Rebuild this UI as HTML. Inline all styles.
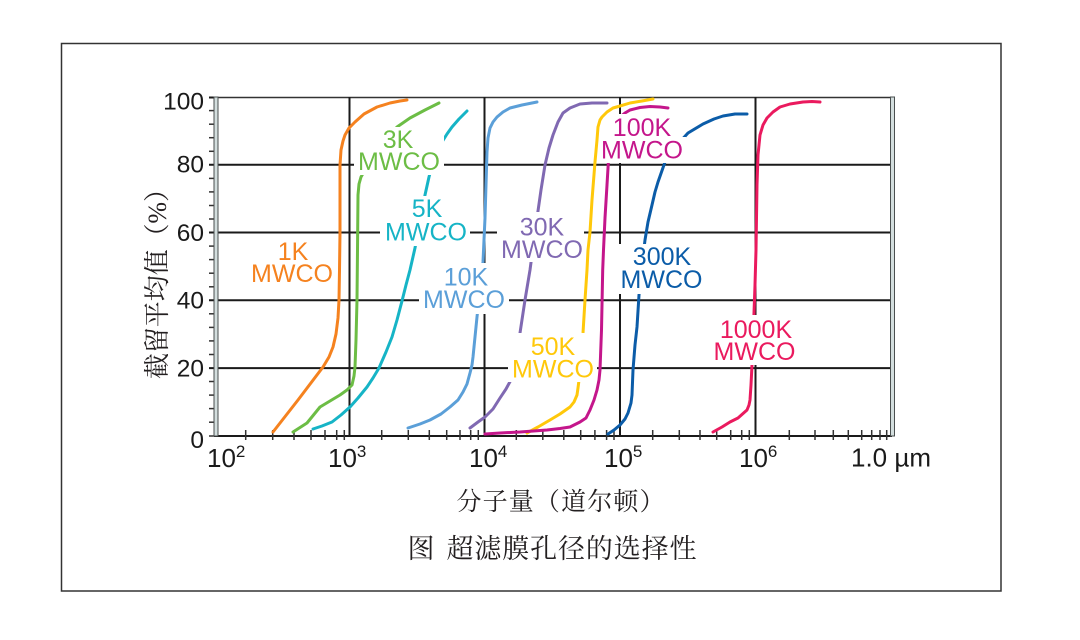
<!DOCTYPE html>
<html>
<head>
<meta charset="utf-8">
<style>
  html, body { margin:0; padding:0; background:#ffffff; }
  body { width:1080px; height:640px; overflow:hidden; }
  svg { display:block; }
  .lbl { font-family:"Liberation Sans", sans-serif; font-size:25px; text-anchor:middle; }
  .tick { font-family:"Liberation Sans", sans-serif; fill:#1a1a1a; }
  .cjk { font-family:"Liberation Serif", "Noto Serif CJK SC", "Noto Sans CJK SC", serif; fill:#231f20; }
  .crv { fill:none; stroke-width:3; stroke-linejoin:round; stroke-linecap:round; }
</style>
</head>
<body>
<svg width="1080" height="640" viewBox="0 0 1080 640" xmlns="http://www.w3.org/2000/svg">
  <rect x="0" y="0" width="1080" height="640" fill="#ffffff"/>
  <!-- outer frame -->
  <rect x="61.5" y="43.5" width="939.5" height="547.5" fill="none" stroke="#333" stroke-width="1.5"/>

  <!-- top line -->
  <line x1="214" y1="97.5" x2="892" y2="97.5" stroke="#333" stroke-width="1.5"/>

  <!-- horizontal gridlines (with major ticks) -->
  <g stroke="#1a1a1a" stroke-width="2">
    <line x1="209" y1="97.5" x2="216" y2="97.5"/>
    <line x1="209" y1="164.7" x2="891" y2="164.7"/>
    <line x1="209" y1="232.5" x2="891" y2="232.5"/>
    <line x1="209" y1="300.3" x2="891" y2="300.3"/>
    <line x1="209" y1="368.1" x2="891" y2="368.1"/>
  </g>
  <!-- vertical gridlines -->
  <g stroke="#1a1a1a" stroke-width="2">
    <line x1="349.5" y1="97" x2="349.5" y2="436"/>
    <line x1="484.5" y1="97" x2="484.5" y2="436"/>
    <line x1="620" y1="97" x2="620" y2="436"/>
    <line x1="755.5" y1="97" x2="755.5" y2="436"/>
  </g>

  <!-- y minor ticks every 4 units -->
  <g stroke="#333" stroke-width="1.5">
    <line x1="209" y1="422.2" x2="218" y2="422.2"/>
    <line x1="209" y1="408.6" x2="218" y2="408.6"/>
    <line x1="209" y1="395.1" x2="218" y2="395.1"/>
    <line x1="209" y1="381.5" x2="218" y2="381.5"/>
    <line x1="209" y1="354.5" x2="218" y2="354.5"/>
    <line x1="209" y1="340.9" x2="218" y2="340.9"/>
    <line x1="209" y1="327.4" x2="218" y2="327.4"/>
    <line x1="209" y1="313.8" x2="218" y2="313.8"/>
    <line x1="209" y1="286.8" x2="218" y2="286.8"/>
    <line x1="209" y1="273.2" x2="218" y2="273.2"/>
    <line x1="209" y1="259.6" x2="218" y2="259.6"/>
    <line x1="209" y1="246.1" x2="218" y2="246.1"/>
    <line x1="209" y1="219.0" x2="218" y2="219.0"/>
    <line x1="209" y1="205.5" x2="218" y2="205.5"/>
    <line x1="209" y1="191.9" x2="218" y2="191.9"/>
    <line x1="209" y1="178.4" x2="218" y2="178.4"/>
    <line x1="209" y1="151.3" x2="218" y2="151.3"/>
    <line x1="209" y1="137.7" x2="218" y2="137.7"/>
    <line x1="209" y1="124.2" x2="218" y2="124.2"/>
    <line x1="209" y1="110.6" x2="218" y2="110.6"/>
    <line x1="209" y1="436" x2="218" y2="436"/>
  </g>

  <!-- x axis -->
  <line x1="214" y1="436" x2="892" y2="436" stroke="#1a1a1a" stroke-width="2"/>
  <!-- x minor ticks -->
  <g stroke="#333" stroke-width="1.5">
    <line x1="245.7" y1="430" x2="245.7" y2="440"/>
    <line x1="272.7" y1="430" x2="272.7" y2="440"/>
    <line x1="294" y1="430" x2="294" y2="440"/>
    <line x1="311" y1="430" x2="311" y2="440"/>
    <line x1="325" y1="430" x2="325" y2="440"/>
    <line x1="336.7" y1="430" x2="336.7" y2="440"/>
    <line x1="344.3" y1="430" x2="344.3" y2="440"/>
    <line x1="381.7" y1="430" x2="381.7" y2="440"/>
    <line x1="408.3" y1="430" x2="408.3" y2="440"/>
    <line x1="429.3" y1="430" x2="429.3" y2="440"/>
    <line x1="446.7" y1="430" x2="446.7" y2="440"/>
    <line x1="460" y1="430" x2="460" y2="440"/>
    <line x1="470.7" y1="430" x2="470.7" y2="440"/>
    <line x1="478.3" y1="430" x2="478.3" y2="440"/>
    <line x1="516.3" y1="430" x2="516.3" y2="440"/>
    <line x1="542.8" y1="430" x2="542.8" y2="440"/>
    <line x1="563.8" y1="430" x2="563.8" y2="440"/>
    <line x1="580.7" y1="430" x2="580.7" y2="440"/>
    <line x1="594.9" y1="430" x2="594.9" y2="440"/>
    <line x1="606.6" y1="430" x2="606.6" y2="440"/>
    <line x1="614" y1="430" x2="614" y2="440"/>
    <line x1="652.7" y1="430" x2="652.7" y2="440"/>
    <line x1="679.3" y1="430" x2="679.3" y2="440"/>
    <line x1="700" y1="430" x2="700" y2="440"/>
    <line x1="716.7" y1="430" x2="716.7" y2="440"/>
    <line x1="730.7" y1="430" x2="730.7" y2="440"/>
    <line x1="741.7" y1="430" x2="741.7" y2="440"/>
    <line x1="749.3" y1="430" x2="749.3" y2="440"/>
    <line x1="789.3" y1="430" x2="789.3" y2="440"/>
    <line x1="815" y1="430" x2="815" y2="440"/>
    <line x1="833.3" y1="430" x2="833.3" y2="440"/>
    <line x1="848.3" y1="430" x2="848.3" y2="440"/>
    <line x1="861.7" y1="430" x2="861.7" y2="440"/>
    <line x1="871.7" y1="430" x2="871.7" y2="440"/>
    <line x1="880" y1="430" x2="880" y2="440"/>
    <line x1="886.7" y1="430" x2="886.7" y2="440"/>
  </g>

  <!-- left & right axes (double lines) -->
  <rect x="214" y="97" width="4" height="339" fill="#d3dede" stroke="#4a4f4f" stroke-width="1"/>
  <rect x="890.5" y="97" width="4" height="339" fill="#d3dede" stroke="#4a4f4f" stroke-width="1"/>

  <!-- curves -->
  <polyline class="crv" stroke="#f5821f" points="273,432 298,400 323,367 329,357 333,347 336,334 338,318 339,300 339.5,270 340,233 340,165 341,150 343,141 345,135 349,128 355,122 364,114 377,107 390,103 400,101 407,100"/>
  <polyline class="crv" stroke="#6cbd45" points="293,432 307,423 320,407 330,401 340,395 347,390 352,385 354,376 355,367 356,340 357,300 357.5,250 358,195 359,184 361,177 365,170 380,148 397,127 410,118 425,110 439,103"/>
  <polyline class="crv" stroke="#16b4c6" points="313,429 322,426 332,422 341,415 350,407 358,398 367,387 373,378 379,368 386,352 392,337 397,320 402,301 406,285 410,270 415,248 420,222 425,195 429,177 433,162 437,151 442,142 447,134 452,127 459,119 467,111"/>
  <polyline class="crv" stroke="#5b9fd8" points="408,428 420,424 430,420 441,414 450,407 458,400 463,392 467,384 470,373 472,365 473,357 475,337 477,317 480,290 483,262 485,218 486,185 487,152 488,138 490,128 493,122 497,117 503,112 510,108 522,105 537,102"/>
  <polyline class="crv" stroke="#8069b2" points="470,428 478,422 485,417 493,409 500,398 506,389 512,378 516,356 520,333 525,300 530,270 534,240 538,211 541,190 545,165 549,148 553,135 558,122 563,113 570,108 580,104 592,103 607,103"/>
  <polyline class="crv" stroke="#ffc80a" points="527,433 538,427 550,420 560,414 570,407 574,402 577,395 578,388 579,380 581,357 583,333 585,300 587,270 588,250 590,232 592,200 595,162 597,140 598,127 600,120 602,117 607,112 613,108 620,106 630,103 642,101 653,99"/>
  <polyline class="crv" stroke="#c4168b" points="485,434 500,433 520,432 547,430 560,428.5 570,427 580,422 586,418 590,410 594,400 597,390 599,380 600,370 601.5,330 602.7,270 603.5,250 605,218 607,185 608.3,163 612,140 616,124 620,117 625,113 630,110 640,107.5 650,106.5 660,107 668,108"/>
  <polyline class="crv" stroke="#0b5ca8" points="608,434 614,430 620,425 625,419 628,413 631,403 632,395 633,370 635,345 637,327 639,295 642,265 645,240 648,222 652,205 655,192 658,182 665,162 677,145 688,133 703,124 714,119 723,116 735,114 747,114"/>
  <polyline class="crv" stroke="#ea1a5e" points="713,432 722,427 730,422 738,418 747,410 749,405 750,400 751,385 752,365 753,340 754,313 755,285 756,250 757,185 758,155 760,135 763,125 767,118 773,112 780,107 790,104 803,102 812,101.5 820,102"/>

  <!-- label backgrounds -->
  <g fill="#ffffff">
    <rect x="247" y="237" width="89" height="51"/>
    <rect x="354" y="127" width="90" height="48"/>
    <rect x="380" y="196" width="90" height="50"/>
    <rect x="419" y="263" width="90" height="51"/>
    <rect x="497" y="212" width="87" height="50"/>
    <rect x="508" y="333" width="89" height="49"/>
    <rect x="609" y="114" width="67" height="26"/>
    <rect x="600" y="137" width="86" height="26"/>
    <rect x="617" y="244" width="89" height="50"/>
    <rect x="710" y="315" width="90" height="50"/>
  </g>

  <!-- labels -->
  <g class="lbl">
    <text x="293" y="260" fill="#f5821f">1K</text>
    <text x="292" y="282" fill="#f5821f">MWCO</text>
    <text x="398" y="148" fill="#6cbd45">3K</text>
    <text x="399" y="170" fill="#6cbd45">MWCO</text>
    <text x="427" y="217" fill="#16b4c6">5K</text>
    <text x="426" y="240.5" fill="#16b4c6">MWCO</text>
    <text x="466" y="285.5" fill="#5b9fd8">10K</text>
    <text x="464" y="308" fill="#5b9fd8">MWCO</text>
    <text x="542" y="235.5" fill="#8069b2">30K</text>
    <text x="542" y="258" fill="#8069b2">MWCO</text>
    <text x="553" y="355" fill="#ffc80a">50K</text>
    <text x="553" y="377.5" fill="#ffc80a">MWCO</text>
    <text x="642" y="136" fill="#c4168b">100K</text>
    <text x="642" y="158.5" fill="#c4168b">MWCO</text>
    <text x="662" y="265" fill="#0b5ca8">300K</text>
    <text x="661.5" y="288" fill="#0b5ca8">MWCO</text>
    <text x="756" y="338" fill="#ea1a5e">1000K</text>
    <text x="754.5" y="360" fill="#ea1a5e">MWCO</text>
  </g>

  <!-- y tick labels -->
  <g class="tick" font-size="24.5" text-anchor="end">
    <text x="204" y="109.5">100</text>
    <text x="204" y="172.5">80</text>
    <text x="204" y="241">60</text>
    <text x="204" y="308.5">40</text>
    <text x="204" y="376.5">20</text>
    <text x="204" y="448">0</text>
  </g>

  <!-- x tick labels -->
  <g class="tick" font-size="26">
    <text x="207" y="467">10<tspan font-size="17" dy="-10">2</tspan></text>
    <text x="328" y="467">10<tspan font-size="17" dy="-10">3</tspan></text>
    <text x="469" y="467">10<tspan font-size="17" dy="-10">4</tspan></text>
    <text x="604" y="467">10<tspan font-size="17" dy="-10">5</tspan></text>
    <text x="739" y="467">10<tspan font-size="17" dy="-10">6</tspan></text>
    <text x="851" y="466.5">1.0 µm</text>
  </g>

  <!-- axis titles -->
  <text class="cjk" font-size="26" transform="translate(166,379) rotate(-90)" x="0" y="0" textLength="203" lengthAdjust="spacing">截留平均值（%）</text>
  <text class="cjk" font-size="25" x="456.5" y="510" textLength="208" lengthAdjust="spacing">分子量（道尔顿）</text>

  <!-- caption -->
  <text class="cjk" font-size="27" x="407.5" y="558">图</text>
  <text class="cjk" font-size="27" x="446.5" y="558" textLength="250" lengthAdjust="spacing">超滤膜孔径的选择性</text>
</svg>
</body>
</html>
